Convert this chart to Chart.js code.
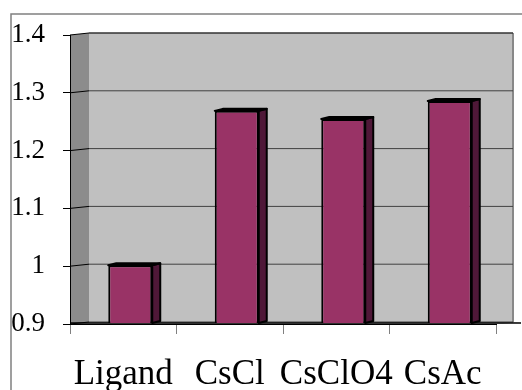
<!DOCTYPE html>
<html>
<head>
<meta charset="utf-8">
<script src="https://cdn.jsdelivr.net/npm/chart.js@4/dist/chart.umd.min.js"></script>
<style>
  html, body { margin: 0; padding: 0; background: #fff; }
  #wrap { width: 522px; height: 390px; position: relative; }
</style>
</head>
<body>
<div id="wrap"><canvas id="grafico"></canvas></div>
<script>
// dados
const categorias = ['Ligand', 'CsCl', 'CsClO4', 'CsAc'];
const valores = [1.0, 1.267, 1.253, 1.284];
const eixoY = [0.9, 1.0, 1.1, 1.2, 1.3, 1.4];

// deslocamento "3D" estilo Excel
const PAREDE_DX = 19, PAREDE_DY = 2;
const BARRA_DX = 8, BARRA_DY = 2;

const fundo3d = {
    id: 'fundo3d',
    beforeDraw(chart) {
        const { ctx, chartArea: a, scales } = chart;
        ctx.save();
        ctx.fillStyle = '#fff';
        ctx.fillRect(0, 0, chart.width, chart.height);

        // moldura externa
        ctx.strokeStyle = '#808080';
        ctx.lineWidth = 1.5;
        ctx.beginPath();
        ctx.moveTo(11, 390);
        ctx.lineTo(11, 14);
        ctx.lineTo(522, 14);
        ctx.stroke();

        // parede lateral
        ctx.fillStyle = '#8c8c8c';
        ctx.beginPath();
        ctx.moveTo(a.left, a.top);
        ctx.lineTo(a.left + PAREDE_DX, a.top - PAREDE_DY);
        ctx.lineTo(a.left + PAREDE_DX, a.bottom - PAREDE_DY);
        ctx.lineTo(a.left, a.bottom);
        ctx.closePath();
        ctx.fill();

        // parede do fundo
        const dir = a.right + 17;
        ctx.fillStyle = '#c0c0c0';
        ctx.fillRect(a.left + PAREDE_DX, a.top - PAREDE_DY, dir - a.left - PAREDE_DX, a.bottom - a.top);

        // piso
        ctx.beginPath();
        ctx.moveTo(a.left, a.bottom);
        ctx.lineTo(a.left + PAREDE_DX, a.bottom - PAREDE_DY);
        ctx.lineTo(dir + 8, a.bottom - PAREDE_DY);
        ctx.lineTo(a.right + 7, a.bottom);
        ctx.closePath();
        ctx.fill();

        // borda direita da parede
        ctx.strokeStyle = '#888';
        ctx.lineWidth = 2;
        ctx.beginPath();
        ctx.moveTo(dir, a.top - PAREDE_DY);
        ctx.lineTo(dir, a.bottom - PAREDE_DY);
        ctx.stroke();

        // linhas de grade (lateral + fundo)
        eixoY.forEach(v => {
            const y = scales.y.getPixelForValue(v);
            ctx.strokeStyle = '#000';
            ctx.lineWidth = 1;
            ctx.beginPath();
            ctx.moveTo(a.left, y);
            ctx.lineTo(a.left + PAREDE_DX, y - PAREDE_DY);
            ctx.stroke();
            ctx.strokeStyle = v === 1.4 ? '#333' : '#404040';
            ctx.lineWidth = v === 1.4 ? 1.5 : 1;
            ctx.beginPath();
            ctx.moveTo(a.left + PAREDE_DX, y - PAREDE_DY);
            ctx.lineTo(dir, y - PAREDE_DY);
            ctx.stroke();
        });

        // linha do piso até a borda
        ctx.strokeStyle = '#000';
        ctx.lineWidth = 1.5;
        ctx.beginPath();
        ctx.moveTo(a.left, a.bottom - 1);
        ctx.lineTo(521, a.bottom - 1);
        ctx.stroke();
        ctx.restore();
    },
    beforeDatasetsDraw(chart) {
        const { ctx, scales } = chart;
        const base = scales.y.getPixelForValue(scales.y.min);
        ctx.save();
        ctx.translate(7, -1);
        // faces laterais e de cima das barras
        chart.getDatasetMeta(0).data.forEach(bar => {
            const esq = bar.x - bar.width / 2;
            const dir = bar.x + bar.width / 2;
            ctx.lineWidth = 2;
            ctx.strokeStyle = '#000';
            ctx.lineJoin = 'round';

            ctx.fillStyle = '#4f1838';
            ctx.beginPath();
            ctx.moveTo(dir, bar.y);
            ctx.lineTo(dir + BARRA_DX, bar.y - BARRA_DY);
            ctx.lineTo(dir + BARRA_DX, base - BARRA_DY);
            ctx.lineTo(dir, base);
            ctx.closePath();
            ctx.fill();
            ctx.stroke();

            ctx.fillStyle = '#7a2a52';
            ctx.beginPath();
            ctx.moveTo(esq, bar.y);
            ctx.lineTo(esq + BARRA_DX, bar.y - BARRA_DY);
            ctx.lineTo(dir + BARRA_DX, bar.y - BARRA_DY);
            ctx.lineTo(dir, bar.y);
            ctx.closePath();
            ctx.fill();
            ctx.stroke();
        });
    },
    afterDatasetsDraw(chart) {
        chart.ctx.restore();
    }
};

document.addEventListener('DOMContentLoaded', () => {
    const ctx = document.getElementById('grafico');
    new Chart(ctx, {
        type: 'bar',
        data: {
            labels: categorias,
            datasets: [{
                data: valores,
                backgroundColor: '#993366',
                borderColor: '#000',
                borderWidth: 2,
                borderSkipped: false,
                barPercentage: 0.413,
                categoryPercentage: 1
            }]
        },
        options: {
            responsive: true,
            maintainAspectRatio: false,
            animation: false,
            layout: { padding: { left: 11, right: 26, top: 35, bottom: 0 } },
            plugins: { legend: { display: false }, tooltip: { enabled: false } },
            scales: {
                y: {
                    min: 0.9,
                    max: 1.4,
                    afterFit: s => { s.width = 59; },
                    afterBuildTicks: s => { s.ticks = eixoY.map(v => ({ value: v })); },
                    border: { color: '#000', width: 1 },
                    grid: { drawOnChartArea: false, drawTicks: true, tickLength: 7, color: '#000' },
                    ticks: {
                        padding: 18,
                        color: '#000',
                        font: { family: 'Liberation Serif', size: 27 },
                        callback: v => String(Math.round(v * 10) / 10)
                    }
                },
                x: {
                    afterFit: s => { s.height = 66; },
                    border: { color: '#000', width: 1 },
                    grid: { offset: true, drawOnChartArea: false, drawTicks: true, tickLength: 10, color: '#808080' },
                    ticks: {
                        padding: 20,
                        color: '#000',
                        maxRotation: 0,
                        autoSkip: false,
                        font: { family: 'Liberation Serif', size: 35 }
                    }
                }
            }
        },
        plugins: [fundo3d]
    });
});
</script>
</body>
</html>
